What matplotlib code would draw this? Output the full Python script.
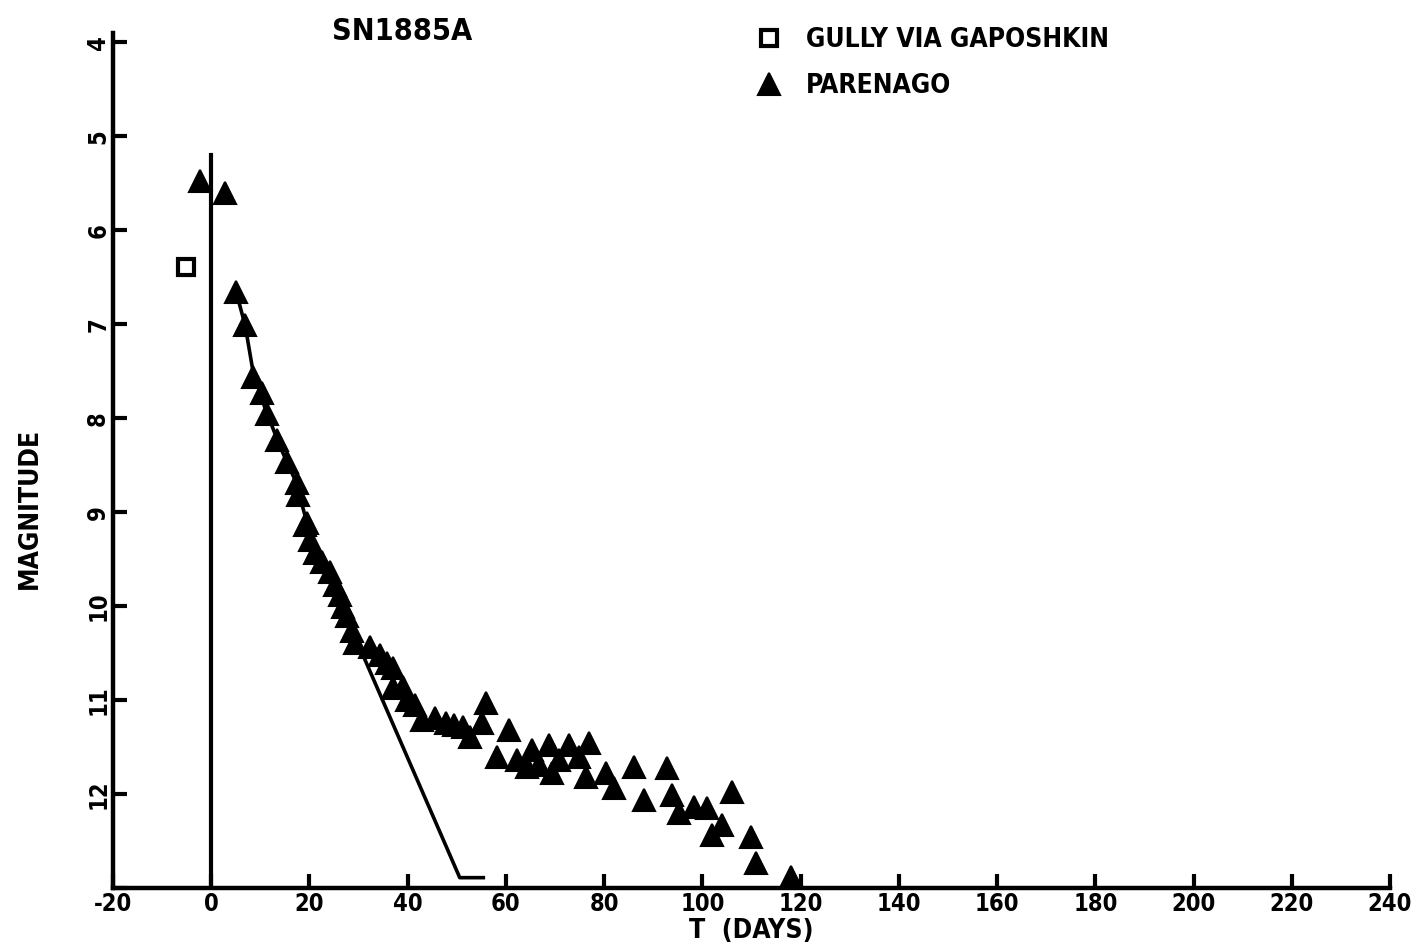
import matplotlib
matplotlib.use("Agg")
import matplotlib.pyplot as plt

plt.rcParams['font.family'] = ['DejaVu Sans']
plt.rcParams['font.stretch'] = 'condensed'
plt.rcParams['font.weight'] = 'bold'

# ---- data ----
gully_t = [-5.1]
gully_m = [6.39]

parenago_t = [-2.2, 2.8, 5.1, 6.9, 8.5, 10.4, 11.4, 13.4, 15.4, 17.5, 17.7, 19.5,
              19.1, 20.1, 21.1, 22.5, 24.2, 25.2, 26.2, 26.8, 27.6, 28.6, 29.2,
              32.3, 34.3, 35.7, 37.0, 37.0, 39.0, 39.8, 41.4, 43.0, 45.5, 47.9,
              49.5, 51.2, 52.6, 55.2, 56.0, 58.1, 60.7, 62.3, 64.2, 65.4, 66.8,
              68.8, 69.4, 70.9, 72.9, 74.9, 76.3, 77.0, 80.4, 82.0, 86.1, 88.1,
              92.8, 93.8, 95.2, 98.3, 100.9, 101.9, 104.0, 106.0, 109.8, 110.9, 118.0]
parenago_m = [5.47, 5.60, 6.66, 7.01, 7.56, 7.73, 7.95, 8.23, 8.47, 8.69, 8.82, 9.12,
              9.14, 9.30, 9.43, 9.53, 9.64, 9.78, 9.88, 10.01, 10.10, 10.26, 10.39,
              10.44, 10.52, 10.60, 10.66, 10.87, 10.86, 11.00, 11.05, 11.21, 11.19, 11.24,
              11.27, 11.29, 11.39, 11.24, 11.03, 11.61, 11.32, 11.64, 11.71, 11.53, 11.69,
              11.48, 11.78, 11.64, 11.48, 11.61, 11.82, 11.46, 11.78, 11.94, 11.71, 12.06,
              11.72, 12.01, 12.20, 12.14, 12.15, 12.44, 12.33, 11.98, 12.46, 12.73, 12.88]

fit_t = [5.1, 6.9, 8.5, 11.0, 14.0, 17.0, 20.0, 23.0, 26.0, 29.0, 31.3, 50.6, 55.4]
fit_m = [6.66, 7.01, 7.50, 7.90, 8.30, 8.65, 9.20, 9.55, 9.87, 10.30, 10.57, 12.89, 12.89]

explosion_t = 0
explosion_top = 5.2

xticks = list(range(-20, 241, 20))
yticks = list(range(4, 14))
ytick_labels = [str(v) for v in range(4, 13)] + ['']

# ---- figure ----
fig = plt.figure(figsize=(14.12, 9.46), dpi=100)
ax = fig.add_axes([113/1412, 1-888/946, (1390-113)/1412, (888-33)/946])

ax.plot(fit_t, fit_m, color='black', lw=2.6, solid_joinstyle='round')
ax.plot([explosion_t, explosion_t], [13, explosion_top], color='black', lw=3)
sq, = ax.plot(gully_t, gully_m, ls='none', marker='s', ms=12, mfc='white',
              mec='black', mew=3, label='GULLY VIA GAPOSHKIN', clip_on=False)
tr, = ax.plot(parenago_t, parenago_m, ls='none', marker='^', ms=16, mfc='black',
              mec='black', mew=1.5, label='PARENAGO', clip_on=False)

ax.set_xlim(-20, 240)
ax.set_ylim(13, 3.9)
ax.set_xticks(xticks)
ax.set_xticklabels([str(v) for v in xticks])
ax.set_yticks(yticks)
ax.set_yticklabels(ytick_labels, rotation=90, va='center')

for s in ['top', 'right']:
    ax.spines[s].set_visible(False)
for s in ['left', 'bottom']:
    ax.spines[s].set_linewidth(3.2)

ax.tick_params(axis='both', direction='in', length=10, width=3, labelsize=17, pad=3)
ax.tick_params(axis='y', pad=2)

ax.set_xlabel('T  (DAYS)', fontsize=19, fontweight='bold', labelpad=1)
fig.text(30/1412, 1-508/946, 'MAGNITUDE', rotation=90, fontsize=19,
         fontweight='bold', ha='center', va='center')
fig.text(402/1412, 1-31/946, 'SN1885A', fontsize=22, fontweight='bold',
         ha='center', va='center')

leg = ax.legend(handles=[sq, tr], loc='upper left', frameon=False,
                bbox_to_anchor=(740/1412, 1-14/946), bbox_transform=fig.transFigure,
                fontsize=19, handlelength=1.2, handletextpad=0.8, labelspacing=0.75,
                borderpad=0, numpoints=1)
for t in leg.get_texts():
    t.set_fontweight('bold')

fig.savefig('out.png', dpi=100)
